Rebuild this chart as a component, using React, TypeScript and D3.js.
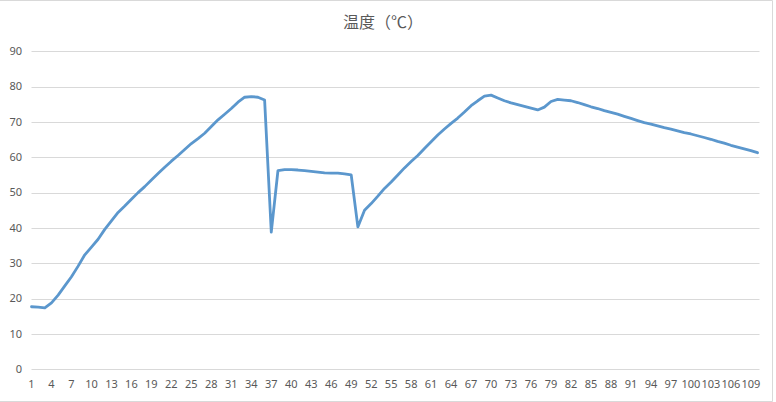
import { useEffect, useRef } from 'react'
import * as d3 from 'd3'

const title = '温度（℃）'

// category labels 1..110 (every third one is shown)
const categories: string[] = [
  '1','2','3','4','5','6','7','8','9','10','11','12','13','14','15','16','17','18','19','20',
  '21','22','23','24','25','26','27','28','29','30','31','32','33','34','35','36','37','38','39','40',
  '41','42','43','44','45','46','47','48','49','50','51','52','53','54','55','56','57','58','59','60',
  '61','62','63','64','65','66','67','68','69','70','71','72','73','74','75','76','77','78','79','80',
  '81','82','83','84','85','86','87','88','89','90','91','92','93','94','95','96','97','98','99','100',
  '101','102','103','104','105','106','107','108','109','110',
]

const temperature: number[] = [
  17.7, 17.6, 17.4, 18.8, 21.0, 23.6, 26.2, 29.2, 32.4, 34.6,
  36.8, 39.6, 42.0, 44.4, 46.2, 48.1, 50.0, 51.7, 53.6, 55.4,
  57.2, 58.9, 60.5, 62.2, 63.9, 65.3, 66.8, 68.7, 70.6, 72.2,
  73.8, 75.6, 77.0, 77.2, 77.0, 76.2, 38.8, 56.2, 56.5, 56.5,
  56.4, 56.2, 56.0, 55.8, 55.6, 55.5, 55.5, 55.3, 55.0, 40.3,
  45.0, 46.9, 49.0, 51.2, 53.0, 55.0, 57.0, 58.8, 60.5, 62.5,
  64.4, 66.3, 68.0, 69.6, 71.1, 72.8, 74.6, 76.0, 77.3, 77.6,
  76.8, 76.0, 75.4, 74.9, 74.4, 73.9, 73.4, 74.2, 75.8, 76.4,
  76.2, 76.0, 75.5, 74.9, 74.3, 73.8, 73.2, 72.7, 72.2, 71.6,
  71.0, 70.4, 69.8, 69.4, 68.9, 68.4, 68.0, 67.5, 67.0, 66.6,
  66.1, 65.6, 65.1, 64.5, 64.0, 63.4, 62.9, 62.4, 61.9, 61.3,
]

const yTicks = [0, 10, 20, 30, 40, 50, 60, 70, 80, 90]

export default function App() {
  const svgRef = useRef<SVGSVGElement>(null)
  const width = 776
  const height = 402

  useEffect(() => {
    if (!svgRef.current) return
    const svg = d3.select(svgRef.current)
    svg.selectAll('*').remove()

    const left = 31.5
    const right = 757.5
    const gridRight = 759.5
    const top = 51.3
    const bottom = 369.3

    const x = d3.scalePoint<string>().domain(categories).range([left, right])
    const y = d3.scaleLinear().domain([0, 90]).range([bottom, top])

    svg.append('rect')
      .attr('width', width)
      .attr('height', height)
      .attr('fill', '#fff')

    // chart border
    svg.append('path')
      .attr('d', `M0,0.5H772.5V401.5H0`)
      .attr('fill', 'none')
      .attr('stroke', '#d9d9d9')
      .attr('stroke-width', 1)

    svg.append('text')
      .attr('x', 383)
      .attr('y', 28)
      .attr('text-anchor', 'middle')
      .attr('fill', '#595959')
      .attr('font-family', '"Noto Sans CJK SC", sans-serif')
      .attr('font-size', '16px')
      .text(title)

    // gridlines
    svg.append('g')
      .selectAll('line')
      .data(yTicks)
      .join('line')
      .attr('x1', left)
      .attr('x2', gridRight)
      .attr('y1', d => Math.round(y(d)) + 0.5)
      .attr('y2', d => Math.round(y(d)) + 0.5)
      .attr('stroke', '#d9d9d9')
      .attr('stroke-width', 1)

    // y labels
    svg.append('g')
      .selectAll('text')
      .data(yTicks)
      .join('text')
      .attr('x', 22)
      .attr('y', d => y(d))
      .attr('dy', '0.35em')
      .attr('text-anchor', 'end')
      .attr('fill', '#595959')
      .attr('font-family', '"Noto Sans", sans-serif')
      .attr('font-size', '11px')
      .text(d => d)

    // x labels, every third category
    svg.append('g')
      .selectAll('text')
      .data(categories.filter((_, i) => i % 3 === 0))
      .join('text')
      .attr('x', d => x(d) ?? 0)
      .attr('y', 388)
      .attr('text-anchor', 'middle')
      .attr('fill', '#595959')
      .attr('font-family', '"Noto Sans", sans-serif')
      .attr('font-size', '11px')
      .text(d => d)

    const line = d3.line<number>()
      .x((_, i) => x(categories[i]) ?? 0)
      .y(d => y(d))

    svg.append('path')
      .datum(temperature)
      .attr('fill', 'none')
      .attr('stroke', '#5b97cd')
      .attr('stroke-width', 2.8)
      .attr('stroke-linejoin', 'round')
      .attr('stroke-linecap', 'round')
      .attr('d', line)
  }, [])

  return (
    <svg
      ref={svgRef}
      width={width}
      height={height}
      style={{ position: 'absolute', left: 0, top: 0, display: 'block' }}
    />
  )
}
